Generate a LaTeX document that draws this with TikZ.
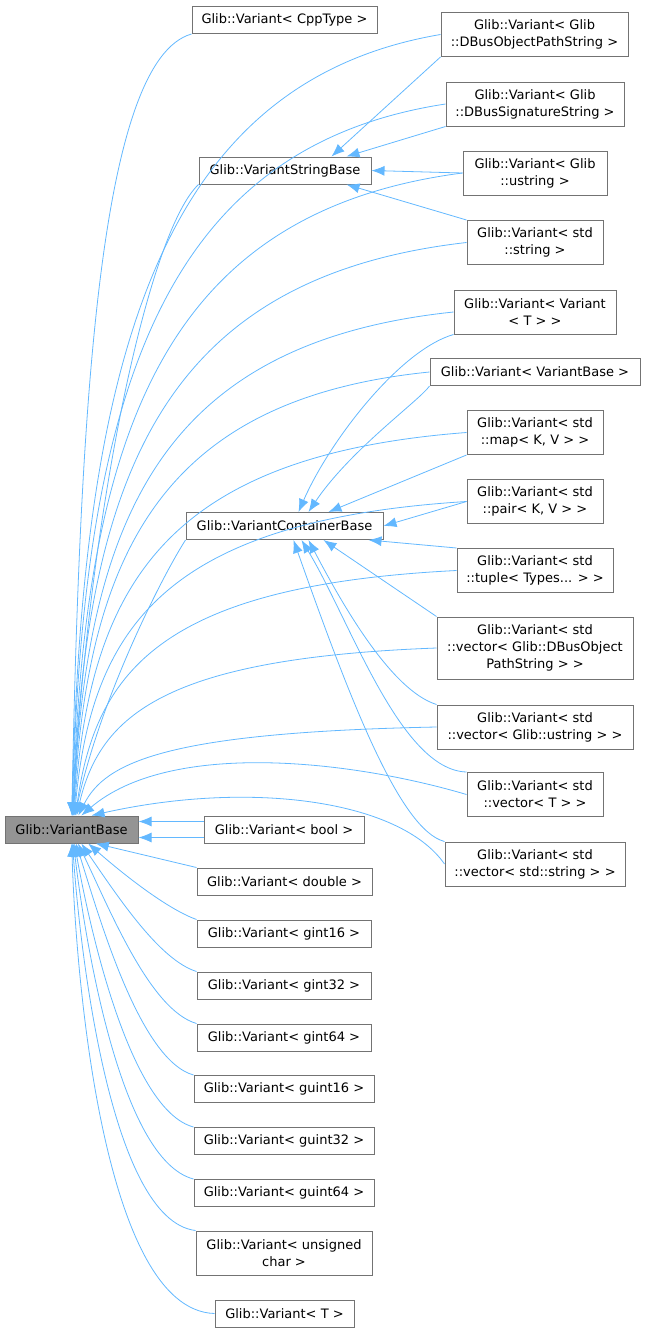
\documentclass[tikz,border=0pt]{standalone}
\usepackage{fontspec}
\setmainfont{DejaVu Sans}
\usetikzlibrary{arrows.meta}
\begin{document}
\begin{tikzpicture}[x=1pt,y=-1pt,
  box/.style={draw=black!55,fill=white,line width=1pt,inner sep=0pt,align=center,font=\fontsize{13}{17}\selectfont},
  e/.style={draw={rgb,255:red,99;green,184;blue,255},line width=0.8pt,-{Latex[length=13pt,width=10pt]}},
  ]
\useasboundingbox (0,0) rectangle (646,1333);
\newcommand\bx[6]{\node[box,minimum width=#4,minimum height=#5] (#1) at (#2,#3) {#6};}
\newcommand\up[4]{\draw[e] (#1.west) .. controls (165,{#2+0.06*(816-#2)}) and (#4,{#2+0.4*(816-#2)}) .. (vb.#3);}
\node[box,fill=black!42,minimum width=133,minimum height=27] (vb) at (71.5,829.5) {Glib::VariantBase};
\bx{cpp}{284.5}{20}{185}{27}{Glib::Variant< CppType >}
\bx{dop}{534.5}{34.5}{187}{44}{Glib::Variant< Glib\\::DBusObjectPathString >}
\bx{dsig}{535}{104}{178}{44}{Glib::Variant< Glib\\::DBusSignatureString >}
\bx{vsb}{285}{170.5}{172}{27}{Glib::VariantStringBase}
\bx{ust}{535}{173}{144}{44}{Glib::Variant< Glib\\::ustring >}
\bx{str}{535}{242.5}{136}{44}{Glib::Variant< std\\::string >}
\bx{vvt}{535}{312}{162}{44}{Glib::Variant< Variant\\< T > >}
\bx{vvb}{535}{372}{210}{27}{Glib::Variant< VariantBase >}
\bx{map}{535}{432.5}{136}{44}{Glib::Variant< std\\::map< K, V > >}
\bx{pair}{535}{501.5}{136}{44}{Glib::Variant< std\\::pair< K, V > >}
\bx{vcb}{284.5}{526}{197}{27}{Glib::VariantContainerBase}
\bx{tup}{535}{570.5}{156}{44}{Glib::Variant< std\\::tuple< Types... > >}
\bx{vdop}{535}{648}{196}{62}{Glib::Variant< std\\::vector< Glib::DBusObject\\PathString > >}
\bx{vust}{535}{727}{196}{44}{Glib::Variant< std\\::vector< Glib::ustring > >}
\bx{vt}{535}{794.5}{136}{44}{Glib::Variant< std\\::vector< T > >}
\bx{vstr}{535}{864}{180}{44}{Glib::Variant< std\\::vector< std::string > >}
\bx{bool}{284}{829.5}{160}{27}{Glib::Variant< bool >}
\bx{dbl}{284.5}{881.5}{175}{27}{Glib::Variant< double >}
\bx{g16}{284}{933.5}{174}{27}{Glib::Variant< gint16 >}
\bx{g32}{284}{985.5}{174}{27}{Glib::Variant< gint32 >}
\bx{g64}{284}{1037.5}{174}{27}{Glib::Variant< gint64 >}
\bx{u16}{284}{1089}{180}{27}{Glib::Variant< guint16 >}
\bx{u32}{284}{1141}{180}{27}{Glib::Variant< guint32 >}
\bx{u64}{284}{1193}{180}{27}{Glib::Variant< guint64 >}
\bx{uch}{284}{1253}{176}{44}{Glib::Variant< unsigned\\char >}
\bx{vT}{284.5}{1313.5}{139}{27}{Glib::Variant< T >}
% to VariantBase, upper
\draw[e] (cpp.south west) .. controls (100,60) and (80,400) .. (vb.89);
\up{dop}{34.5}{88}{82}
\up{dsig}{104}{87}{83}
\draw[e] (vsb.south west) .. controls (150,230) and (90,500) .. (vb.86);
\up{ust}{173}{85}{85}
\up{str}{242.5}{84}{86}
\up{vvt}{312}{83}{87}
\up{vvb}{372}{82}{88}
\up{map}{432.5}{80}{90}
\up{pair}{501.5}{78}{92}
\draw[e] (vcb.south west) .. controls (160,580) and (100,700) .. (vb.76);
\up{tup}{570.5}{74}{96}
\up{vdop}{648}{70}{100}
\up{vust}{727}{64}{105}
\draw[e] (vt.west) .. controls (350,760) and (170,740) .. (vb.55);
\draw[e] (vstr.west) .. controls (400,800) and (250,780) .. (vb.35);
\draw[e] ([yshift=-8pt]bool.west) -- ([yshift=-8pt]vb.east);
\draw[e] ([yshift=8pt]bool.west) -- ([yshift=8pt]vb.east);
% lower
\draw[e] (dbl.north west) -- (vb.-30);
\draw[e] (g16.north west) .. controls (170,910) and (130,880) .. (vb.-40);
\draw[e] (g32.north west) .. controls (160,960) and (120,900) .. (vb.-55);
\draw[e] (g64.north west) .. controls (150,1010) and (110,910) .. (vb.-65);
\draw[e] (u16.north west) .. controls (140,1060) and (100,920) .. (vb.-72);
\draw[e] (u32.north west) .. controls (130,1110) and (90,930) .. (vb.-78);
\draw[e] (u64.north west) .. controls (120,1160) and (85,940) .. (vb.-82);
\draw[e] (uch.north west) .. controls (110,1220) and (80,950) .. (vb.-86);
\draw[e] (vT.west) .. controls (100,1310) and (75,960) .. (vb.-89);
% to VariantStringBase
\draw[e] (dop.south west) -- ([xshift=-40pt]vsb.north east);
\draw[e] (dsig.south west) -- ([xshift=-25pt]vsb.north east);
\draw[e] (ust.west) -- (vsb.east);
\draw[e] (str.north west) -- ([xshift=-25pt]vsb.south east);
% to VariantContainerBase
\draw[e] (vvt.south west) .. controls (400,350) and (330,440) .. ([xshift=-85pt]vcb.north east);
\draw[e] (vvb.south west) .. controls (420,400) and (350,450) .. ([xshift=-75pt]vcb.north east);
\draw[e] (map.south west) -- ([xshift=-55pt]vcb.north east);
\draw[e] (pair.west) -- (vcb.east);
\draw[e] (tup.north west) -- ([xshift=-15pt]vcb.south east);
\draw[e] (vdop.north west) -- ([xshift=-60pt]vcb.south east);
\draw[e] (vust.north west) .. controls (390,690) and (340,600) .. ([xshift=-75pt]vcb.south east);
\draw[e] (vt.north west) .. controls (400,770) and (350,620) .. ([xshift=-82pt]vcb.south east);
\draw[e] (vstr.north west) .. controls (400,830) and (350,700) .. ([xshift=-90pt]vcb.south east);
\end{tikzpicture}
\end{document}
